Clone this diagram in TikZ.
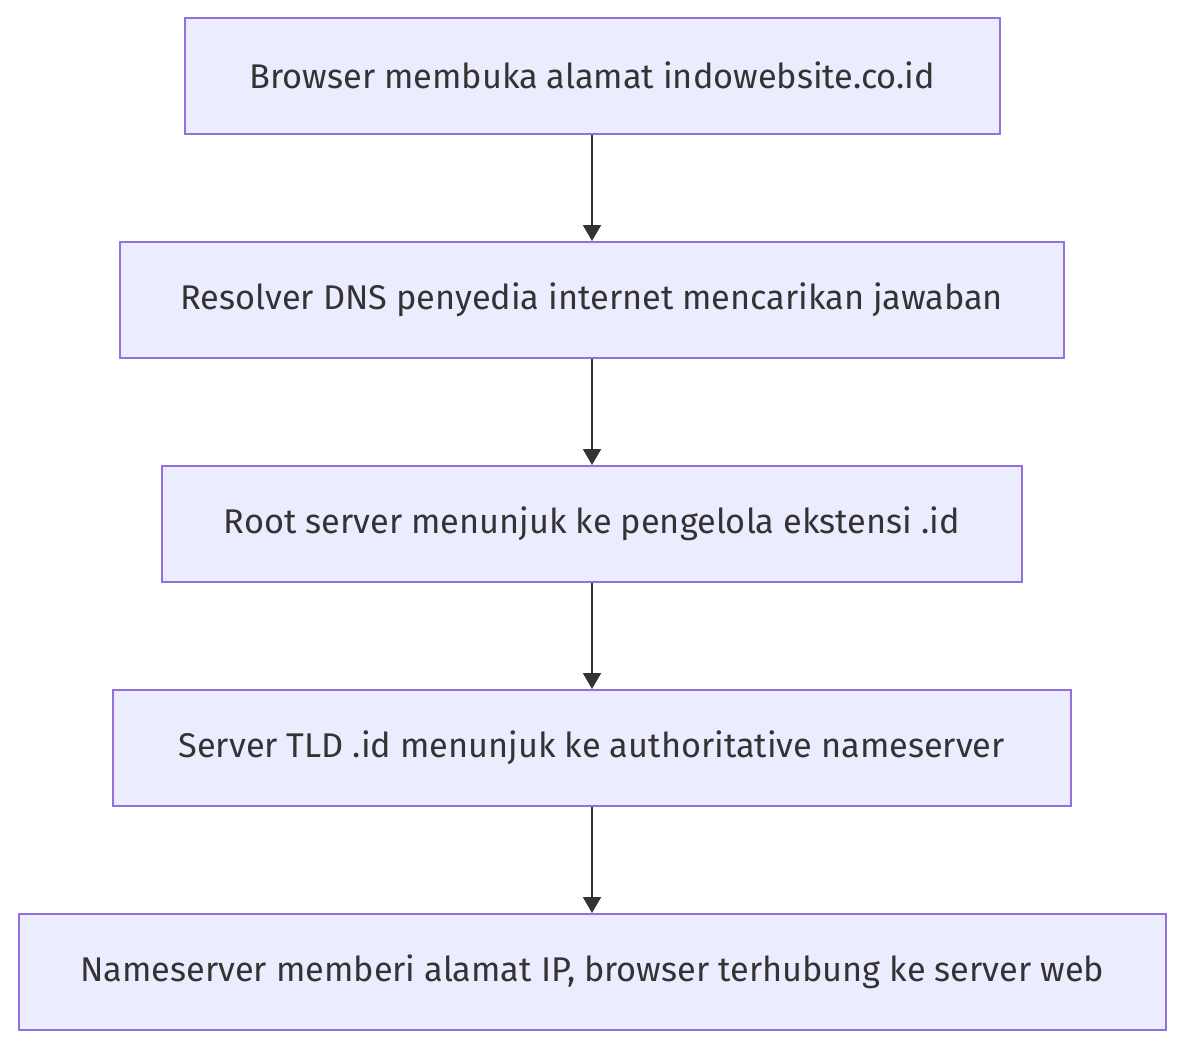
\documentclass[tikz,border=0pt]{standalone}
\usepackage{fontspec}
\setmainfont{Fira Sans}
\usetikzlibrary{arrows.meta}
\definecolor{boxfill}{HTML}{ECECFF}
\definecolor{boxline}{HTML}{9370DB}
\definecolor{ink}{HTML}{333333}
\tikzset{
  stepbox/.style={draw=boxline, fill=boxfill, line width=1.5pt, text=ink, font=\fontsize{34.3}{40}\selectfont, anchor=north west, inner sep=0pt},
  flow/.style={draw=ink, line width=2pt, -{Triangle[length=16pt,width=18pt]}},
}
\begin{document}
\begin{tikzpicture}[x=1pt,y=-1pt]
\useasboundingbox (0,0) rectangle (1200,1060);
\node[stepbox, minimum width=815pt, minimum height=116pt] (a) at (184,17) {Browser membuka alamat indowebsite.co.id};
\node[stepbox, minimum width=944pt, minimum height=116pt] (b) at (119,241) {Resolver DNS penyedia internet mencarikan jawaban};
\node[stepbox, minimum width=860pt, minimum height=116pt] (c) at (161,465) {Root server menunjuk ke pengelola ekstensi .id};
\node[stepbox, minimum width=958pt, minimum height=116pt] (d) at (112,689) {Server TLD .id menunjuk ke authoritative nameserver};
\node[stepbox, minimum width=1147pt, minimum height=116pt] (e) at (18,913) {Nameserver memberi alamat IP, browser terhubung ke server web};
\draw[flow] (a.south -| 592,0) -- (b.north -| 592,0);
\draw[flow] (b.south -| 592,0) -- (c.north -| 592,0);
\draw[flow] (c.south -| 592,0) -- (d.north -| 592,0);
\draw[flow] (d.south -| 592,0) -- (e.north -| 592,0);
\end{tikzpicture}
\end{document}
